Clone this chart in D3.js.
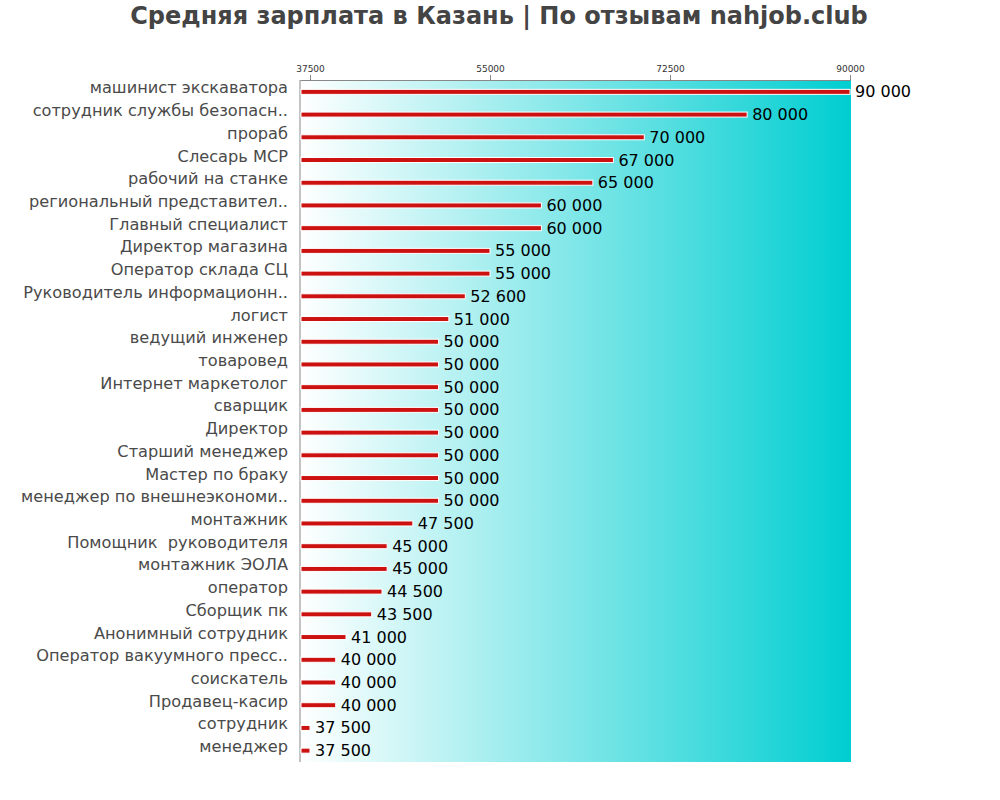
<!DOCTYPE html>
<html><head><meta charset="utf-8">
<script src="https://cdn.jsdelivr.net/npm/d3@7"></script>
<style>body{margin:0;background:#fff;} text{font-family:"DejaVu Sans";}</style>
</head><body>
<svg id="c" width="1000" height="800"></svg>
<script>
const categories = ["машинист экскаватора","сотрудник службы безопасн..","прораб","Слесарь МСР","рабочий на станке","региональный представител..","Главный специалист","Директор магазина","Оператор склада СЦ","Руководитель информационн..","логист","ведущий инженер","товаровед","Интернет маркетолог","сварщик","Директор","Старший менеджер","Мастер по браку","менеджер по внешнеэкономи..","монтажник","Помощник  руководителя","монтажник ЭОЛА","оператор","Сборщик пк","Анонимный сотрудник","Оператор вакуумного пресс..","соискатель","Продавец-касир","сотрудник","менеджер"];
const values = [90000,80000,70000,67000,65000,60000,60000,55000,55000,52600,51000,50000,50000,50000,50000,50000,50000,50000,50000,47500,45000,45000,44500,43500,41000,40000,40000,40000,37500,37500];
const tickValues = [37500,55000,72500,90000];
const title = "Средняя зарплата в Казань | По отзывам nahjob.club";

const svg = d3.select("#c");
const L=300,R=850,T=80,B=762;
const x = d3.scaleLinear().domain([90000-(R-L)*17500/180, 90000]).range([L,R]);
const y = d3.scaleBand().domain(categories).range([T+0.5,B]);

const defs = svg.append("defs");
const g = defs.append("linearGradient").attr("id","bg").attr("x1","0").attr("x2","1").attr("y1","0").attr("y2","0");
g.append("stop").attr("offset","0").attr("stop-color","#ffffff");
g.append("stop").attr("offset","1").attr("stop-color","#00ced1");
svg.append("rect").attr("x",L).attr("y",T).attr("width",R-L+1).attr("height",B-T).attr("fill","url(#bg)");

svg.append("text").attr("x",499).attr("y",24).attr("text-anchor","middle")
  .attr("font-size",24).attr("font-weight","bold").attr("fill","#444").text(title);

const ax = svg.append("g").attr("transform",`translate(0,${T})`)
  .call(d3.axisTop(x).tickValues(tickValues).tickFormat(d=>String(d)).tickSize(5).tickSizeOuter(0));
ax.select(".domain").attr("stroke","#888");
ax.selectAll(".tick line").attr("stroke","#888");
ax.selectAll(".tick text").attr("font-size",9).attr("fill","#333").attr("font-family","DejaVu Sans");

svg.append("line").attr("x1",L).attr("x2",L).attr("y1",T).attr("y2",B).attr("stroke","#888");

const rows = svg.append("g").selectAll("g").data(categories).join("g");
rows.append("rect")
  .attr("x",L+1).attr("y",(d)=>y(d)+y.bandwidth()/2-2.5)
  .attr("width",(d,i)=>x(values[i])-L-1).attr("height",5)
  .attr("fill","#cc1111").attr("stroke","#fff").attr("stroke-width",1);
rows.append("text").attr("x",L-12).attr("y",d=>y(d)+y.bandwidth()/2-3)
  .attr("text-anchor","end").attr("dominant-baseline","middle")
  .style("white-space","pre")
  .attr("font-size",16.2).attr("fill","#4a4a4a").text(d=>d);
rows.append("text").attr("x",(d,i)=>x(values[i])+5).attr("y",d=>y(d)+y.bandwidth()/2+1)
  .attr("dominant-baseline","middle").attr("font-size",16).attr("fill","#000")
  .text((d,i)=>d3.format(",")(values[i]).replace(/,/g," "));
</script>
</body></html>
